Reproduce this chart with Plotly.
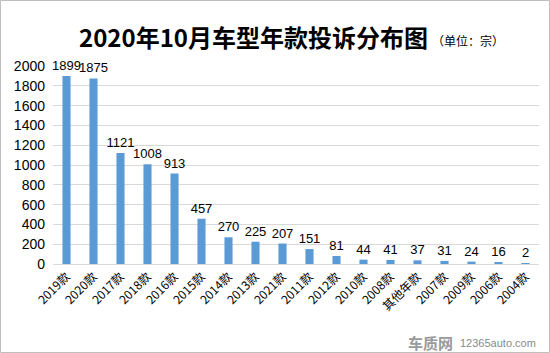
import plotly.graph_objects as go

categories = ["2019款", "2020款", "2017款", "2018款", "2016款", "2015款", "2014款", "2013款", "2021款",
              "2011款", "2012款", "2010款", "2008款", "其他年款", "2007款", "2009款", "2006款", "2004款"]
values = [1899, 1875, 1121, 1008, 913, 457, 270, 225, 207, 151, 81, 44, 41, 37, 31, 24, 16, 2]
y_ticks = [0, 200, 400, 600, 800, 1000, 1200, 1400, 1600, 1800, 2000]

W, H = 550, 353
L, R, T, B = 53, 11, 66, 89
pw, ph = W - L - R, H - T - B

font_cjk = "Microsoft YaHei, Noto Sans CJK SC, sans-serif"

fig = go.Figure(go.Bar(
    x=categories, y=values, width=0.3,
    marker=dict(color="#5B9BD5", line=dict(width=0)),
    text=[str(v) for v in values], textposition="outside", cliponaxis=False,
    constraintext="none",
    textfont=dict(size=13, color="#000000", family="Liberation Sans, Arial, sans-serif"),
))

fig.update_layout(
    width=W, height=H,
    margin=dict(l=L, r=R, t=T, b=B),
    paper_bgcolor="white", plot_bgcolor="white",
    showlegend=False,
    xaxis=dict(tickangle=-45, showgrid=False, showline=True, linecolor="#D9D9D9", linewidth=1,
               ticks="", tickfont=dict(size=12, color="#000000", family=font_cjk)),
    yaxis=dict(range=[0, 2000], tickvals=y_ticks, showgrid=True, gridcolor="#D9D9D9", gridwidth=1,
               zeroline=False, showline=False, ticks="", ticklen=0, ticklabelstandoff=7,
               tickfont=dict(size=14, color="#000000", family="Liberation Sans, Arial, sans-serif")),
    annotations=[
        dict(text="<b>2020年10月车型年款投诉分布图</b>", x=253 / W, y=1 - 36 / H, xref="paper", yref="paper",
             showarrow=False, xanchor="center", yanchor="middle",
             font=dict(size=24, color="#000000", family=font_cjk)),
        dict(text="（单位：宗）", x=430 / W, y=1 - 40 / H, xref="paper", yref="paper",
             showarrow=False, xanchor="left", yanchor="middle",
             font=dict(size=12, color="#000000", family=font_cjk)),
        dict(text="<b>车质网</b>", x=455 / W, y=1 - 342 / H, xref="paper", yref="paper",
             showarrow=False, xanchor="right", yanchor="middle",
             font=dict(size=15, color="#9a9a9a", family=font_cjk)),
        dict(text="12365auto.com", x=458 / W, y=1 - 343 / H, xref="paper", yref="paper",
             showarrow=False, xanchor="left", yanchor="middle",
             font=dict(size=11, color="#8a8a8a", family="Liberation Sans, Arial, sans-serif")),
    ],
)
# move annotations from plot-relative to whole-figure paper coords
for a in fig.layout.annotations:
    xf, yf = a.x * W, (1 - a.y) * H
    a.x = (xf - L) / pw
    a.y = 1 - (yf - T) / ph

fig.add_shape(type="rect", xref="paper", yref="paper",
              x0=(0.5 - L) / pw, x1=(W - 0.5 - L) / pw,
              y0=1 - (H - 0.5 - T) / ph, y1=1 - (0.5 - T) / ph,
              line=dict(color="#BFBFBF", width=1), fillcolor="rgba(0,0,0,0)", layer="above")

fig.write_html("out.html")
